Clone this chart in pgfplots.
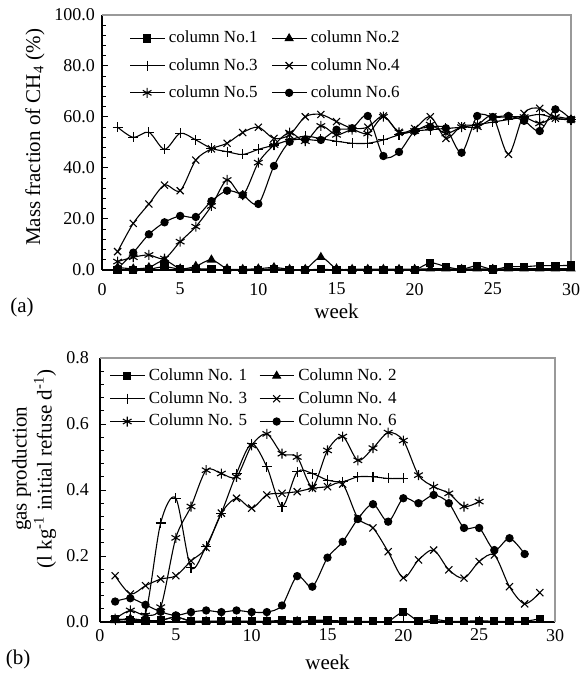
\documentclass[border=0pt]{standalone}
\usepackage{fontspec}
\setmainfont{Liberation Serif}
\usepackage{pgfplots}
\pgfplotsset{compat=1.18}
\usetikzlibrary{plotmarks}

\pgfplotsset{
  colplot/.style={black, line width=0.55pt, smooth, tension=0.5, mark options={solid, fill=black}},
  panel/.style={
    scale only axis, xmin=0, xmax=30, xtick={0,5,...,30},
    axis lines*=left, axis line style={-, black, line width=0.6pt},
    tick align=inside, tick style={black, line width=0.5pt},
    major tick length=3pt, minor tick length=1.8pt,
    minor y tick num=4, clip=false,
    /pgf/number format/assume math mode=true,
    tick label style={font=\fontsize{9}{10}\selectfont},
    label style={font=\fontsize{10.5}{12.5}\selectfont},
    yticklabel style={/pgf/number format/fixed, /pgf/number format/fixed zerofill,
                      /pgf/number format/precision=1},
    legend columns=2, legend cell align=left,
    xlabel={week},
  },
}

\begin{document}
\begin{tikzpicture}
\path[use as bounding box] (0,0) rectangle (290.5pt,337.5pt);

% (a) methane content
\begin{axis}[panel,
  at={(51pt,202.5pt)}, anchor=south west,
  width=234.5pt, height=127.5pt,
  ymin=0, ymax=100, ytick={0,20,40,60,80,100},
  xticklabel style={yshift=-3pt},
  ylabel={Mass fraction of CH\textsubscript{4} (\%)},
  ylabel style={at={(axis description cs:-0.143,0.52)}, anchor=center},
  xlabel style={at={(axis description cs:0.5,-0.161)}, anchor=center},
  legend style={at={(axis description cs:0.045,0.97)}, anchor=north west,
    draw=none, fill=none, font=\fontsize{8.5}{10}\selectfont,
    /tikz/row sep=2.2pt,
    /tikz/every even column/.append style={column sep=5pt}},
]
\draw[black!40, line width=0.6pt] (rel axis cs:0,1) -- (rel axis cs:1,1) -- (rel axis cs:1,0);
\addplot[colplot, mark=square*, mark size=1.8pt] coordinates {
 (1,0)(2,0)(3,0.3)(4,1.3)(5,0.3)(6,0.5)(7,0.3)(8,0)(9,0)(10,0)(11,0.5)(12,0)(13,0)(14,0.3)(15,0)
 (16,0)(17,0)(18,0)(19,0)(20,0)(21,2.8)(22,1.3)(23,0.3)(24,1.7)(25,0.2)(26,1.3)(27,1.3)(28,1.7)(29,1.7)(30,1.8)};
\addlegendentry{column No.1}
\addplot[colplot, mark=triangle*, mark size=2.2pt] coordinates {
 (1,1)(2,0.5)(3,1)(4,3.8)(5,0.5)(6,1.5)(7,4)(8,0.5)(9,0.3)(10,0.5)(11,1)(12,0.3)(13,0.3)(14,5)(15,0.5)
 (16,0.3)(17,0.3)(18,0.3)(19,0.3)(20,0.3)(21,0.5)(22,0.5)(23,0.3)(24,0.5)(25,0.3)(26,0.5)(27,0.5)(28,0.5)(29,0.5)(30,0.5)};
\addlegendentry{column No.2}
\addplot[colplot, mark=+, mark size=2.5pt] coordinates {
 (1,56)(2,52)(3,54)(4,47.3)(5,53.6)(6,51)(7,47.7)(8,46.4)(9,45.3)(10,47.3)(11,49)(12,51)(13,52.5)(14,51.5)(15,50.5)
 (16,49.7)(17,49.7)(18,51)(19,53)(20,54.5)(21,55)(22,55.5)(23,56)(24,57)(25,58)(26,59)(27,60)(28,61)(29,59.5)(30,59)};
\addlegendentry{column No.3}
\addplot[colplot, mark=x, mark size=2.5pt] coordinates {
 (1,7.2)(2,18.3)(3,25.9)(4,33.3)(5,31.1)(6,43.1)(7,47.5)(8,49.7)(9,53.9)(10,56)(11,51.6)(12,53)(13,60.1)(14,61)(15,58.2)
 (16,55.6)(17,56)(18,60.4)(19,54)(20,55.5)(21,60.1)(22,51.6)(23,56.5)(24,56.9)(25,60.1)(26,45.4)(27,61.4)(28,63.4)(29,59.5)(30,59)};
\addlegendentry{column No.4}
\addplot[colplot, mark=asterisk, mark size=2.5pt] coordinates {
 (1,3.3)(2,5)(3,5.9)(4,4.5)(5,11.1)(6,17)(7,25.1)(8,35.3)(9,29.4)(10,42.1)(11,49)(12,53.9)(13,50.5)(14,56.5)(15,53)
 (16,55)(17,53.5)(18,60.1)(19,54)(20,54.5)(21,57)(22,53.5)(23,56)(24,56)(25,59.5)(26,60)(27,60)(28,57.5)(29,60)(30,59)};
\addlegendentry{column No.5}
\addplot[colplot, mark=*, mark size=1.8pt] coordinates {
 (1,0.5)(2,6.8)(3,14)(4,18.7)(5,21.2)(6,20.8)(7,27)(8,31.1)(9,29.4)(10,25.9)(11,40.8)(12,50.3)(13,51.2)(14,51)(15,55)
 (16,55.6)(17,60.4)(18,44.7)(19,46.3)(20,54.5)(21,56)(22,55.6)(23,46)(24,60.4)(25,60)(26,60.4)(27,58.5)(28,54.5)(29,63)(30,59)};
\addlegendentry{column No.6}
\end{axis}

% (b) gas production
\begin{axis}[panel,
  at={(50pt,26.5pt)}, anchor=south west,
  width=227.5pt, height=132pt,
  ymin=0, ymax=0.8, ytick={0,0.2,0.4,0.6,0.8},
  yticklabel style={xshift=-2pt},
  ylabel={gas production\\(l kg\textsuperscript{-1} initial refuse d\textsuperscript{-1})},
  ylabel style={at={(axis description cs:-0.145,0.58)}, anchor=center, align=center},
  xlabel style={at={(axis description cs:0.5,-0.152)}, anchor=center},
  legend style={at={(axis description cs:0.007,0.992)}, anchor=north west,
    draw=none, fill=none, font=\fontsize{8.5}{10}\selectfont,
    /tikz/row sep=0pt,
    /tikz/every even column/.append style={column sep=4pt}},
]
\draw[black!40, line width=0.6pt] (rel axis cs:0,1) -- (rel axis cs:1,1) -- (rel axis cs:1,0);
\addplot[colplot, mark=square*, mark size=1.8pt] coordinates {
 (1,0.01)(2,0.005)(3,0.003)(4,0.005)(5,0.015)(6,0.003)(7,0.003)(8,0.002)(9,0.003)(10,0.002)(11,0.002)(12,0.005)(13,0.002)(14,0.005)(15,0.005)
 (16,0.003)(17,0.002)(18,0.002)(19,0.002)(20,0.03)(21,0.003)(22,0.008)(23,0.002)(24,0.002)(25,0.004)(26,0.002)(27,0.002)(28,0.002)(29,0.01)};
\addlegendentry{Column No. 1}
\addplot[colplot, mark=triangle*, mark size=2.2pt] coordinates {
 (1,0.005)(2,0.01)(3,0.005)(4,0.005)(5,0.015)(6,0.002)(7,0.002)(8,0.002)(9,0.002)(10,0.002)(11,0.002)(12,0.002)(13,0.002)};
\addlegendentry{Column No. 2}
\addplot[colplot, mark=+, mark size=2.5pt] coordinates {
 (1,0.005)(2,0.01)(3,0.025)(4,0.30)(5,0.375)(6,0.165)(7,0.23)(8,0.33)(9,0.45)(10,0.54)(11,0.47)(12,0.35)(13,0.455)(14,0.45)(15,0.43)
 (16,0.425)(17,0.44)(18,0.44)(19,0.435)(20,0.435)};
\addlegendentry{Column No. 3}
\addplot[colplot, mark=x, mark size=2.5pt] coordinates {
 (1,0.14)(2,0.085)(3,0.11)(4,0.13)(5,0.14)(6,0.185)(7,0.225)(8,0.33)(9,0.375)(10,0.345)(11,0.385)(12,0.39)(13,0.395)(14,0.405)(15,0.41)
 (16,0.418)(17,0.315)(18,0.285)(19,0.213)(20,0.134)(21,0.188)(22,0.218)(23,0.158)(24,0.133)(25,0.183)(26,0.203)(27,0.107)(28,0.055)(29,0.089)};
\addlegendentry{Column No. 4}
\addplot[colplot, mark=asterisk, mark size=2.5pt] coordinates {
 (1,0.01)(2,0.035)(3,0.02)(4,0.045)(5,0.255)(6,0.35)(7,0.46)(8,0.45)(9,0.44)(10,0.535)(11,0.57)(12,0.51)(13,0.50)(14,0.41)(15,0.52)
 (16,0.562)(17,0.49)(18,0.527)(19,0.574)(20,0.55)(21,0.445)(22,0.41)(23,0.39)(24,0.35)(25,0.365)};
\addlegendentry{Column No. 5}
\addplot[colplot, mark=*, mark size=1.8pt] coordinates {
 (1,0.062)(2,0.072)(3,0.052)(4,0.031)(5,0.02)(6,0.03)(7,0.035)(8,0.03)(9,0.035)(10,0.03)(11,0.03)(12,0.05)(13,0.139)(14,0.107)(15,0.195)
 (16,0.243)(17,0.312)(18,0.357)(19,0.304)(20,0.375)(21,0.36)(22,0.385)(23,0.36)(24,0.285)(25,0.285)(26,0.218)(27,0.254)(28,0.206)};
\addlegendentry{Column No. 6}
\end{axis}

\node[font=\fontsize{10.5}{12.5}\selectfont] at (11pt,184pt) {(a)};
\node[font=\fontsize{10.5}{12.5}\selectfont] at (9pt,8pt) {(b)};
\end{tikzpicture}
\end{document}
